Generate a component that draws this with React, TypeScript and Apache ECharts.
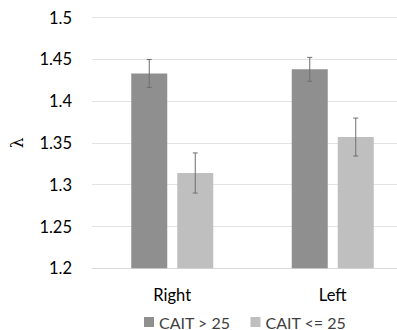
import React, { useEffect, useRef } from "react";
import * as echarts from "echarts";

const categories = ["Right", "Left"];
const seriesNames = ["CAIT > 25", "CAIT <= 25"];
const highValues = [1.433, 1.438];
const highErrors = [0.0167, 0.0143];
const lowValues = [1.314, 1.357];
const lowErrors = [0.024, 0.0227];
const yTicks = { min: 1.2, max: 1.5, interval: 0.05 };

const BAR_W = 36;
const GAP = 10;

export default function App() {
  const ref = useRef<HTMLDivElement>(null);
  useEffect(() => {
    if (!ref.current) return;
    const chart = echarts.init(ref.current, null, { renderer: "svg" });
    const font = "Lato, 'Open Sans', sans-serif";
    const errSeries = (vals: number[], errs: number[], side: number) => ({
      type: "custom",
      silent: true,
      z: 10,
      data: vals.map((v, i) => [i, v - errs[i], v + errs[i]]),
      encode: { x: 0, y: [1, 2] },
      renderItem: (params: any, api: any) => {
        const i = api.value(0);
        const lo = api.coord([i, api.value(1)]);
        const hi = api.coord([i, api.value(2)]);
        const x = lo[0] + side * (BAR_W + GAP) / 2;
        const cap = 2.5;
        const style = { stroke: "#6f6f6f", lineWidth: 1 };
        return {
          type: "group",
          children: [
            { type: "line", shape: { x1: x, y1: lo[1], x2: x, y2: hi[1] }, style },
            { type: "line", shape: { x1: x - cap, y1: lo[1], x2: x + cap, y2: lo[1] }, style },
            { type: "line", shape: { x1: x - cap, y1: hi[1], x2: x + cap, y2: hi[1] }, style },
          ],
        };
      },
    });
    chart.setOption({
      animation: false,
      textStyle: { fontFamily: font },
      grid: { left: 88, right: 0, top: 17.5, bottom: 61.7, containLabel: false },
      legend: {
        data: seriesNames,
        left: 139,
        top: 309,
        padding: 5,
        itemWidth: 10,
        itemHeight: 10,
        itemGap: 20,
        icon: "rect",
        textStyle: { fontSize: 16, color: "#404040", fontFamily: font },
      },
      xAxis: {
        type: "category",
        data: categories,
        axisLine: { show: true, lineStyle: { color: "#d9d9d9" } },
        axisTick: { show: false },
        axisLabel: { fontSize: 16.5, color: "#000", margin: 18, fontFamily: font },
      },
      yAxis: {
        type: "value",
        min: yTicks.min,
        max: yTicks.max,
        interval: yTicks.interval,
        name: "λ",
        nameLocation: "middle",
        nameGap: 67,
        nameRotate: 90,
        nameTextStyle: { fontSize: 17, color: "#000", fontFamily: "'DejaVu Serif', serif" },
        axisLine: { show: false },
        axisTick: { show: false },
        splitLine: { lineStyle: { color: "#e3e3e3", width: 1 } },
        axisLabel: { fontSize: 16.5, color: "#000", margin: 20, fontFamily: font },
      },
      series: [
        {
          name: seriesNames[0],
          type: "bar",
          data: highValues,
          barWidth: BAR_W,
          barGap: (GAP / BAR_W) * 100 + "%",
          itemStyle: { color: "#8f8f8f" },
        },
        {
          name: seriesNames[1],
          type: "bar",
          data: lowValues,
          barWidth: BAR_W,
          itemStyle: { color: "#bfbfbf" },
        },
        errSeries(highValues, highErrors, -1),
        errSeries(lowValues, lowErrors, 1),
      ],
    });
    return () => chart.dispose();
  }, []);
  return (
    <div style={{ width: 397, height: 330, position: "absolute", left: 0, top: 0, overflow: "hidden", background: "#fff" }}>
      <div ref={ref} style={{ width: 413, height: 330 }} />
    </div>
  );
}
